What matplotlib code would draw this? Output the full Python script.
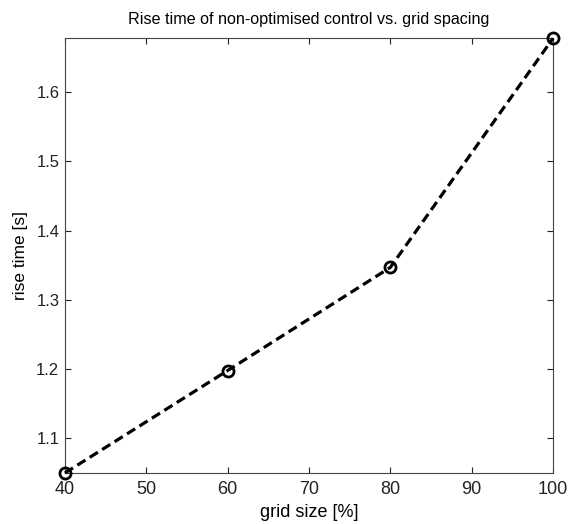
import matplotlib
matplotlib.use("Agg")
import matplotlib.pyplot as plt

grid_size = [40, 60, 80, 100]
rise_time = [1.05, 1.198, 1.347, 1.678]
xticks = [40, 50, 60, 70, 80, 90, 100]
yticks = [1.1, 1.2, 1.3, 1.4, 1.5, 1.6]

plt.rcParams['font.family'] = ['Liberation Sans', 'DejaVu Sans']
fig = plt.figure(figsize=(5.69, 5.24), dpi=100)
ax = fig.add_axes([0.114, 0.0973, 0.858, 0.8297])
ax.plot(grid_size, rise_time, 'k--', lw=2.3, dashes=(3, 1.6),
        marker='o', ms=8, mfc='none', mec='k', mew=2, clip_on=False, zorder=5)
ax.set_xlim(40, 100)
ax.set_ylim(1.05, 1.678)
ax.set_xticks(xticks)
ax.set_yticks(yticks)
ax.set_yticklabels([f"{v:.1f}" for v in yticks])
ax.tick_params(direction='in', top=True, right=True, length=4, width=0.8,
               colors='#222222')
ax.tick_params(axis='x', labelsize=13, pad=6)
ax.tick_params(axis='y', labelsize=12, pad=4)
for s in ax.spines.values():
    s.set_linewidth(0.8)
    s.set_color('#444444')
ax.set_xlabel('grid size [%]', fontsize=13, labelpad=4)
ax.set_ylabel('rise time [s]', fontsize=12.5, labelpad=6)
ax.set_title('Rise time of non-optimised control vs. grid spacing', fontsize=11.6, pad=10)
fig.savefig('out.png', dpi=100)
